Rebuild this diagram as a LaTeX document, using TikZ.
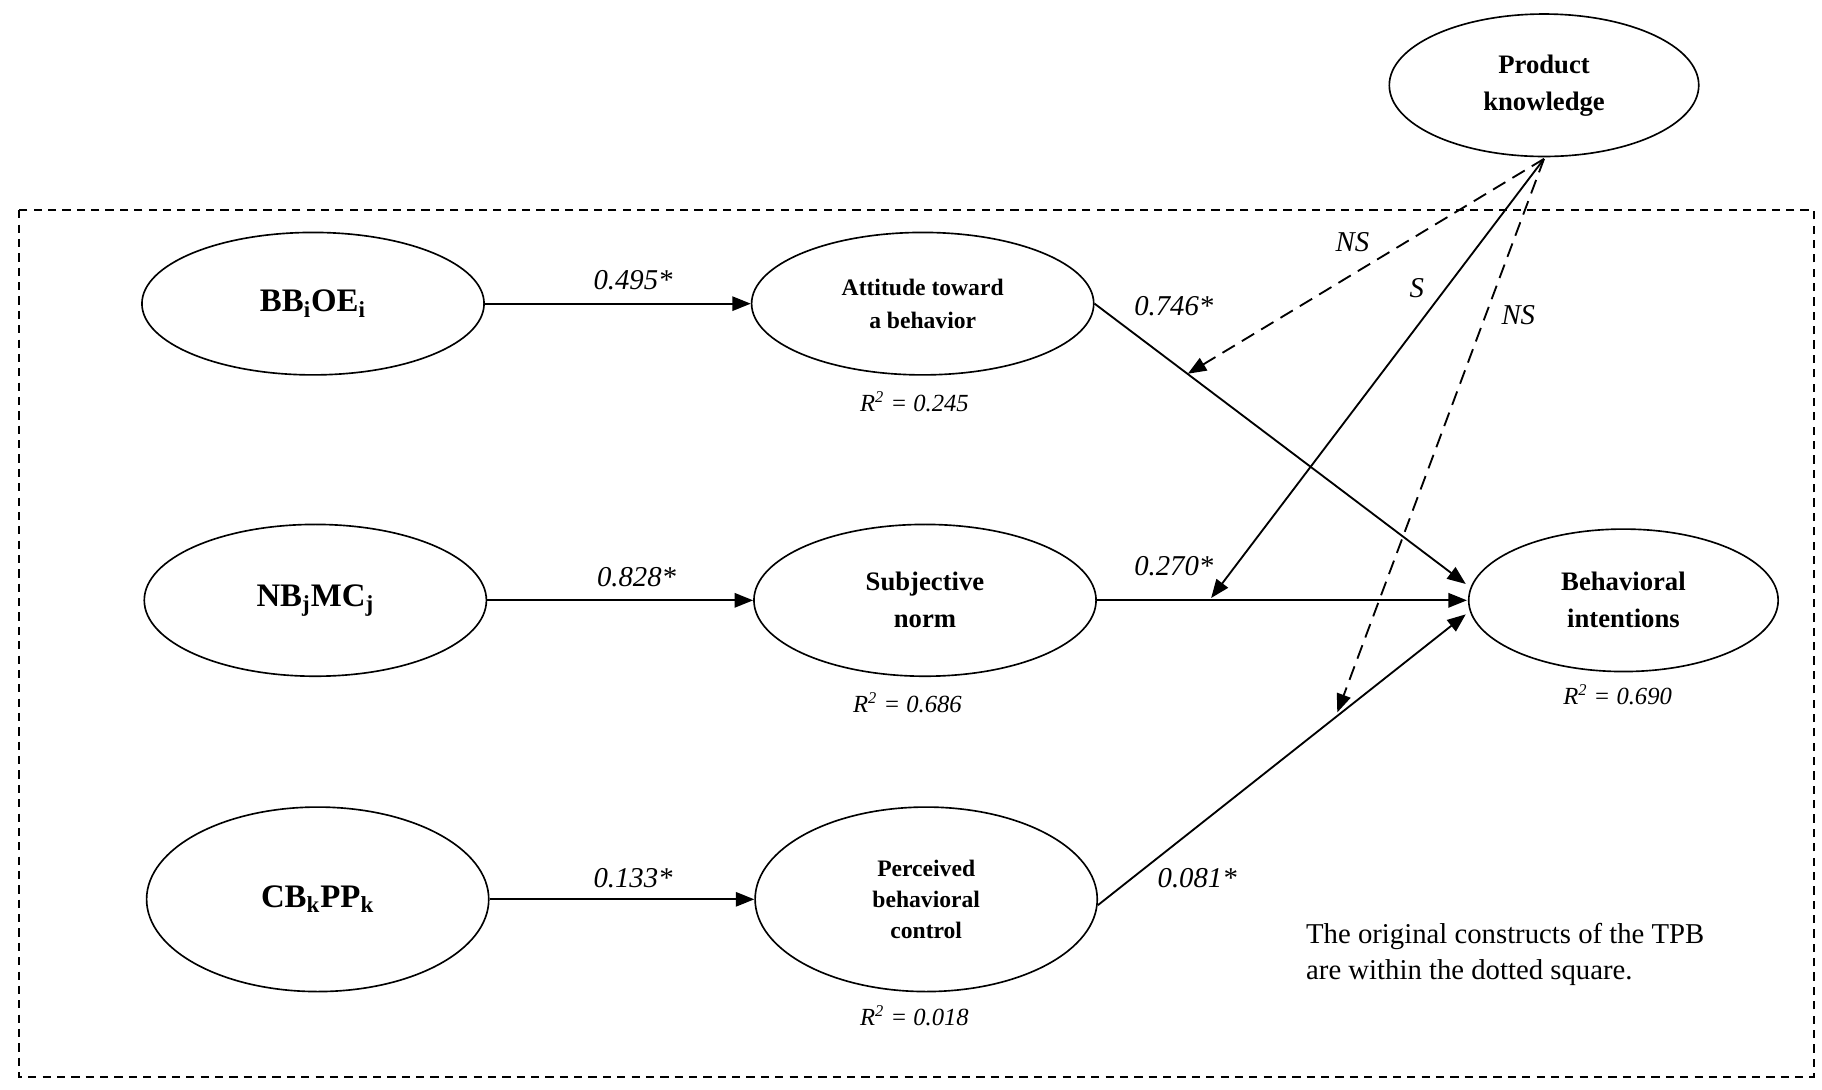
\documentclass[tikz,border=0pt]{standalone}
\usepackage{fontspec}
\setmainfont{Liberation Serif}
\usetikzlibrary{shapes.geometric,arrows.meta}
\begin{document}
\begin{tikzpicture}[x=0.02cm,y=-0.02cm,
  ell/.style={draw,ellipse,line width=0.8pt,align=center,font=\bfseries\fontsize{13}{18}\selectfont},
  arr/.style={-{Triangle[length=9pt,width=7pt]},line width=0.9pt},
  dar/.style={-{Triangle[length=9pt,width=7pt]},line width=0.9pt,dash pattern=on 7pt off 4pt},
  lab/.style={font=\itshape\fontsize{14}{16}\selectfont},
  rsq/.style={font=\itshape\fontsize{12}{14}\selectfont}]
\useasboundingbox (0,0) rectangle (1560,933);
\draw[dash pattern=on 4pt off 3pt,line width=0.8pt] (16,180) rectangle (1553,922);
\node[ell,minimum width=5.3cm,minimum height=2.44cm] (pk) at (1322,73) {Product\\knowledge};
\node[ell,minimum width=5.86cm,minimum height=2.44cm,font=\bfseries\fontsize{16}{18}\selectfont] (bb) at (268,260) {BB\textsubscript{i}OE\textsubscript{i}};
\node[ell,minimum width=5.86cm,minimum height=2.44cm,font=\bfseries\fontsize{11.5}{16}\selectfont] (att) at (790,260) {Attitude toward\\a behavior};
\node[ell,minimum width=5.86cm,minimum height=2.6cm,font=\bfseries\fontsize{16}{18}\selectfont] (nb) at (270,514) {NB\textsubscript{j}MC\textsubscript{j}};
\node[ell,minimum width=5.86cm,minimum height=2.6cm] (sn) at (792,514) {Subjective\\norm};
\node[ell,minimum width=5.86cm,minimum height=3.16cm,font=\bfseries\fontsize{16}{18}\selectfont] (cb) at (272,770) {CB\textsubscript{k}PP\textsubscript{k}};
\node[ell,minimum width=5.86cm,minimum height=3.16cm,font=\bfseries\fontsize{11.5}{15}\selectfont] (pbc) at (793,770) {Perceived\\behavioral\\control};
\node[ell,minimum width=5.3cm,minimum height=2.44cm] (bi) at (1390,514) {Behavioral\\intentions};
\draw[arr] (bb) -- (att);
\draw[arr] (nb) -- (sn);
\draw[arr] (cb) -- (pbc);
\coordinate (biA) at (1255,500);
\coordinate (biB) at (1256,514);
\coordinate (biC) at (1255,526);
\draw[arr] (att.east) -- (biA);
\draw[arr] (sn.east) -- (biB);
\draw[arr] (940,775) -- (biC);
\coordinate (pkb) at (1322,136);
\coordinate (m1) at (1017,320);
\coordinate (m2) at (1037,512);
\coordinate (m3) at (1145,610);
\draw[dar] (pkb) -- (m1);
\draw[arr] (pkb) -- (m2);
\draw[dar] (pkb) -- (m3);
\node[lab] (l1) at (542,240) {0.495*};
\node[lab] (l2) at (545,494) {0.828*};
\node[lab] (l3) at (542,752) {0.133*};
\node[lab] (l4) at (1005,262) {0.746*};
\node[lab] (l5) at (1005,485) {0.270*};
\node[lab] (l6) at (1025,752) {0.081*};
\node[lab] (n1) at (1158,207) {NS};
\node[lab] (n2) at (1213,247) {S};
\node[lab] (n3) at (1300,270) {NS};
\node[rsq] (r1) at (783,344) {R\textsuperscript{2} = 0.245};
\node[rsq] (r2) at (777,602) {R\textsuperscript{2} = 0.686};
\node[rsq] (r3) at (1385,595) {R\textsuperscript{2} = 0.690};
\node[rsq] (r4) at (783,870) {R\textsuperscript{2} = 0.018};
\node[anchor=north west,align=left,font=\fontsize{14}{17.5}\selectfont,inner sep=0] (note) at (1118,790) {The original constructs of the TPB\\are within the dotted square.};
\end{tikzpicture}
\end{document}
